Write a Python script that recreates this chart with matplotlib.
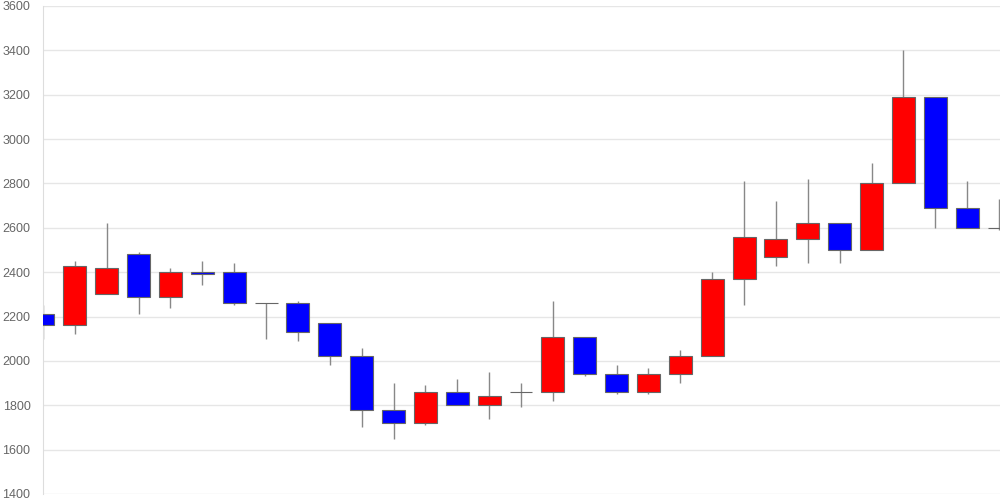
import matplotlib
matplotlib.use("Agg")
import matplotlib.pyplot as plt
import numpy as np

opens  = [2210, 2160, 2300, 2480, 2290, 2400, 2400, 2260, 2260, 2170, 2020, 1780, 1720, 1860, 1800, 1860,
          1860, 2110, 1940, 1860, 1940, 2020, 2370, 2470, 2550, 2620, 2500, 2800, 3190, 2690, 2600]
closes = [2160, 2430, 2420, 2290, 2400, 2390, 2260, 2260, 2130, 2020, 1780, 1720, 1860, 1800, 1840, 1860,
          2110, 1940, 1860, 1940, 2020, 2370, 2560, 2550, 2620, 2500, 2800, 3190, 2690, 2600, 2600]
highs  = [2250, 2450, 2620, 2490, 2420, 2450, 2440, 2260, 2270, 2170, 2060, 1900, 1890, 1920, 1950, 1900,
          2270, 2110, 1980, 1970, 2050, 2400, 2810, 2720, 2820, 2620, 2890, 3400, 3190, 2810, 2730]
lows   = [2100, 2120, 2300, 2210, 2240, 2340, 2250, 2100, 2090, 1980, 1700, 1650, 1710, 1800, 1740, 1790,
          1820, 1930, 1850, 1850, 1900, 2020, 2250, 2430, 2440, 2440, 2500, 2800, 2600, 2600, 2590]
yticks = [1400, 1600, 1800, 2000, 2200, 2400, 2600, 2800, 3000, 3200, 3400, 3600]

plt.rcParams['font.family'] = ['Liberation Sans', 'DejaVu Sans']
fig = plt.figure(figsize=(10, 5), dpi=100)
ax = fig.add_axes([0.043, 0.012, 0.957, 0.976])

x = np.arange(len(opens))
o = np.array(opens); c = np.array(closes)
bottoms = np.minimum(o, c)
heights = np.abs(c - o)
colors = ['#ff0000' if cc > oo else ('#0000ff' if cc < oo else '#666666') for oo, cc in zip(o, c)]

ax.vlines(x, lows, highs, color='#888888', linewidth=1, zorder=2)
ax.bar(x, heights, bottom=bottoms, width=0.72, color=colors, edgecolor='#666666',
       linewidth=0.8, zorder=3)

ax.set_xlim(0, 30.03)
ax.set_ylim(1400, 3600)
ax.set_yticks(yticks)
ax.set_yticklabels([str(t) for t in yticks], color='#666666', fontsize=9)
ax.set_xticks([])
ax.grid(axis='y', color='#e6e6e6', linewidth=1, zorder=0)
ax.set_axisbelow(True)
for s in ['top', 'right', 'bottom']:
    ax.spines[s].set_visible(False)
ax.spines['left'].set_color('#dddddd')
ax.tick_params(axis='y', length=0, pad=9)

fig.savefig('out.png', dpi=100)
